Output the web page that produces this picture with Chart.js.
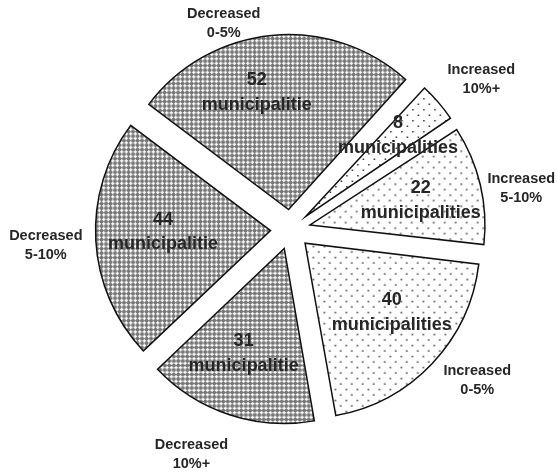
<!DOCTYPE html>
<html>
<head>
<meta charset="utf-8">
<script src="https://cdn.jsdelivr.net/npm/chart.js@4.4.1/dist/chart.umd.min.js"></script>
<style>
    html, body { margin: 0; padding: 0; background: #fff; }
    #wrap { width: 557px; height: 472px; }
</style>
</head>
<body>
<div id="wrap"><canvas id="myChart" width="557" height="472"></canvas></div>
<script>
// data
var categories = ['Increased\n10%+', 'Increased\n5-10%', 'Increased\n0-5%', 'Decreased\n10%+', 'Decreased\n5-10%', 'Decreased\n0-5%'];
var municipalities = [8, 22, 40, 31, 44, 52];
var valueLabels = ['8\nmunicipalities', '22\nmunicipalities', '40\nmunicipalities', '31\nmunicipalitie', '44\nmunicipalitie', '52\nmunicipalitie'];

var sliceRadius = 175;
var explode = 80; // chart.js moves a slice by offset / 4

// fills
function makeDots () {
    var c = document.createElement('canvas');
    c.width = 11; c.height = 11;
    var g = c.getContext('2d');
    g.fillStyle = '#fff';
    g.fillRect(0, 0, 11, 11);
    g.fillStyle = '#333';
    g.fillRect(1, 1, 1.5, 1.5);
    g.fillRect(6.5, 6.5, 1.5, 1.5);
    return g.createPattern(c, 'repeat');
}

function makeCross () {
    var c = document.createElement('canvas');
    c.width = 9; c.height = 9;
    var g = c.getContext('2d');
    g.fillStyle = '#767676';
    g.fillRect(0, 0, 9, 9);
    g.fillStyle = '#fff';
    [[2.25, 2.25], [6.75, 2.25], [2.25, 6.75], [6.75, 6.75]].forEach(function (p) {
        g.fillRect(p[0] - 0.65, p[1] - 1.8, 1.3, 3.6);
        g.fillRect(p[0] - 1.8, p[1] - 0.65, 3.6, 1.3);
    });
    return g.createPattern(c, 'repeat');
}

var dots = makeDots();
var cross = makeCross();
var fills = categories.map(function (c) { return c.indexOf('Increased') === 0 ? dots : cross; });

// label nudges (pixels) from the computed anchor points
var innerNudge = [[6, -7], [0, 2], [4, -9], [-5, -3], [6, -5], [-21, -4]];
var outerNudge = [[43, -23], [41, 4], [45, 17], [-38, 40], [-50, 5], [-48, -12]];

// keep every slice at the same radius after the offset
var sameRadius = {
    id: 'sameRadius',
    afterDatasetUpdate: function (chart, args) {
        args.meta.data.forEach(function (arc) {
            var c = arc.endAngle - arc.startAngle;
            var fix = 1 - Math.sin(Math.min(Math.PI, c));
            arc.outerRadius = sliceRadius - (explode / 4) * fix;
        });
    }
};

function drawLines (ctx, lines, x, y, font, lh) {
    ctx.font = font;
    var top = y - (lines.length - 1) * lh / 2;
    lines.forEach(function (t, k) {
        ctx.fillText(t, x, top + k * lh);
    });
}

var sliceLabels = {
    id: 'sliceLabels',
    afterDatasetsDraw: function (chart) {
        var ctx = chart.ctx;
        var meta = chart.getDatasetMeta(0);
        ctx.save();
        ctx.fillStyle = '#262626';
        ctx.textAlign = 'center';
        ctx.textBaseline = 'middle';
        meta.data.forEach(function (arc, i) {
            var mid = (arc.startAngle + arc.endAngle) / 2;
            var shift = explode / 4;
            var cos = Math.cos(mid), sin = Math.sin(mid);
            var rIn = shift + 0.65 * sliceRadius;
            drawLines(ctx, valueLabels[i].split('\n'),
                arc.x + cos * rIn + innerNudge[i][0], arc.y + sin * rIn + innerNudge[i][1],
                'bold 18px "Liberation Sans", Arial, sans-serif', 24.5);
            var rOut = shift + sliceRadius;
            drawLines(ctx, categories[i].split('\n'),
                arc.x + cos * rOut + outerNudge[i][0], arc.y + sin * rOut + outerNudge[i][1],
                'bold 14.5px "Liberation Sans", Arial, sans-serif', 19.5);
        });
        ctx.restore();
    }
};

var ctx = document.getElementById('myChart').getContext('2d');
var chart = new Chart(ctx, {
    type: 'pie',
    data: {
        labels: categories,
        datasets: [{
            data: municipalities,
            backgroundColor: fills,
            borderColor: '#111',
            borderWidth: 1.5,
            borderJoinStyle: 'miter',
            offset: explode
        }]
    },
    options: {
        responsive: false,
        devicePixelRatio: 1,
        animation: false,
        events: [],
        rotation: 42,
        radius: sliceRadius,
        layout: { padding: { left: 24, right: 0, top: 0, bottom: 13 } },
        plugins: {
            legend: { display: false },
            tooltip: { enabled: false }
        }
    },
    plugins: [sameRadius, sliceLabels]
});
</script>
</body>
</html>
